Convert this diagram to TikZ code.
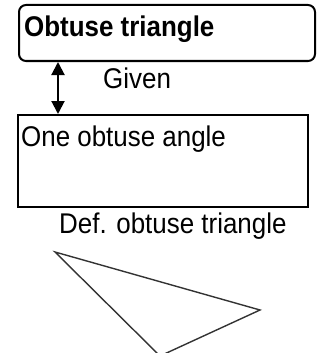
\documentclass[tikz,border=0pt]{standalone}
\usepackage{fontspec}
\setmainfont{Liberation Sans}[FakeStretch=0.91]
\usetikzlibrary{arrows.meta}
\begin{document}
\begin{tikzpicture}[x=1pt,y=1pt,
  boxline/.style={draw=black,line width=2pt,inner sep=0pt},
  lbl/.style={anchor=base west,inner sep=0pt,font=\fontsize{28.5}{34}\selectfont},
  dbl/.style={line width=2pt,{Triangle[width=13pt,length=13pt]}-{Triangle[width=13pt,length=13pt]}},
  tri/.style={draw=black!80,line width=1.4pt,line join=miter}]
\useasboundingbox (0,0) rectangle (320,-353);
\clip (0,0) rectangle (320,-353);
\node[boxline,rounded corners=7pt,minimum width=296pt,minimum height=56pt] (box1) at (167,-33) {};
\node[lbl,font=\fontsize{28.5}{34}\selectfont\bfseries] (t1) at (24,-37) {Obtuse triangle};
\node[boxline,minimum width=290pt,minimum height=92pt] (box2) at (163,-161) {};
\node[lbl] (t2) at (21,-146) {One obtuse angle};
\coordinate (ax) at (58,0);
\draw[dbl] (box1.south -| ax) -- (box2.north -| ax);
\node[lbl] (given) at (103,-88) {Given};
\node[lbl] (def) at (59,-233) {Def. obtuse triangle};
\coordinate (va) at (55,-252);
\coordinate (vb) at (260,-310);
\coordinate (vc) at (160,-356);
\draw[tri] (va) -- (vb) -- (vc) -- cycle;
\end{tikzpicture}
\end{document}
